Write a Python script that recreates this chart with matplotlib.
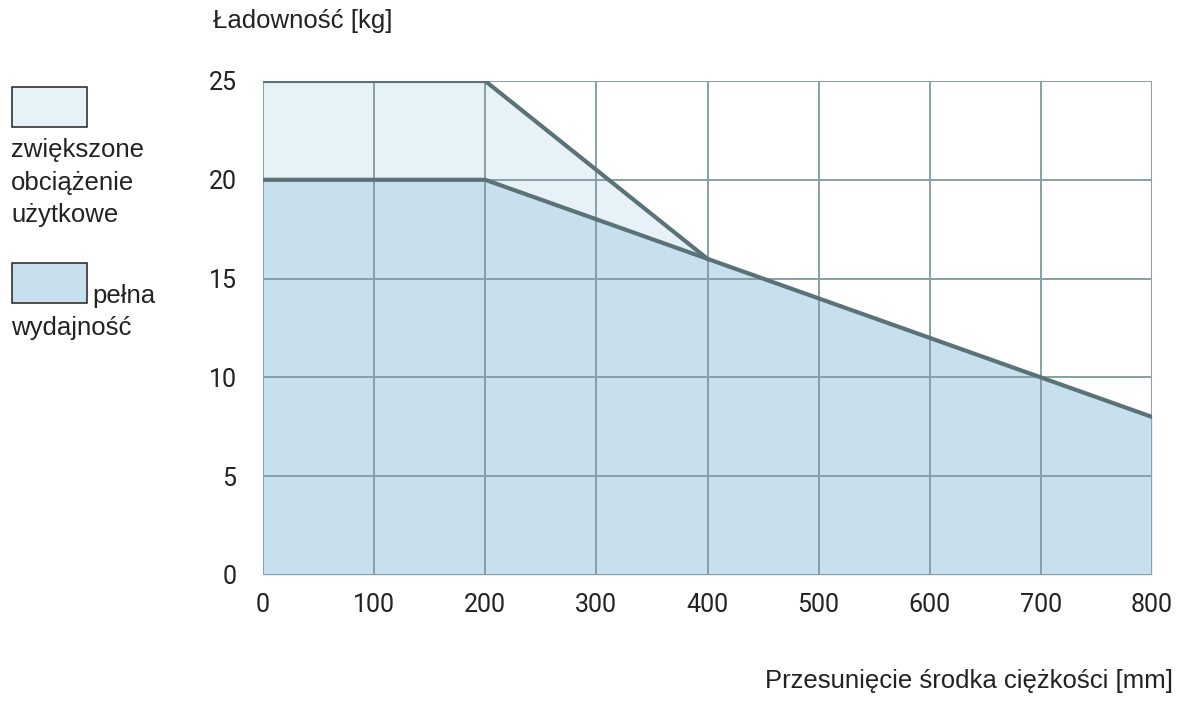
import matplotlib.pyplot as plt
from matplotlib import font_manager
from matplotlib.patches import Rectangle

plt.rcParams['font.family'] = ['Roboto', 'DejaVu Sans']

# dane
x_full = [0, 100, 200, 300, 400, 500, 600, 700, 800]
y_full = [20, 20, 20, 18, 16, 14, 12, 10, 8]
x_inc = [0, 100, 200, 300, 400]
y_inc = [25, 25, 25, 20.5, 16]
x_ticks = [0, 100, 200, 300, 400, 500, 600, 700, 800]
y_ticks = [0, 5, 10, 15, 20, 25]

c_inc = '#e6f1f8'
c_full = '#c8e0ed'
c_line = '#5b7378'
c_grid = '#86a0a8'
c_text = '#222222'
lab_size = 18.5

# zwykła (nie Narrow) Liberation Sans dla opisów
lab_fp = font_manager.FontProperties(family='Roboto', size=lab_size)
for f in font_manager.fontManager.ttflist:
    if f.name == 'Liberation Sans' and f.style == 'normal' and f.weight == 400 \
            and 'narrow' not in f.fname.lower():
        lab_fp = font_manager.FontProperties(fname=f.fname, size=lab_size)
        break

W, H = 1187, 702
fig = plt.figure(figsize=(W/100, H/100), dpi=100)
ax = fig.add_axes([263/W, 1-575/H, (1152-263)/W, (575-81)/H])

y_low_inc = [y_full[x_full.index(v)] for v in x_inc]
ax.fill_between(x_inc, y_low_inc, y_inc, color=c_inc, lw=0, zorder=1)
ax.fill_between(x_full, 0, y_full, color=c_full, lw=0, zorder=1)

for v in x_ticks:
    ax.axvline(v, color=c_grid, lw=1.4, zorder=2)
for v in y_ticks:
    ax.axhline(v, color=c_grid, lw=1.4, zorder=2)

ax.plot(x_inc, y_inc, color=c_line, lw=3, zorder=3, solid_joinstyle='miter')
ax.plot(x_full, y_full, color=c_line, lw=3, zorder=3, solid_joinstyle='miter')

ax.set_xlim(0, 800)
ax.set_ylim(0, 25)
ax.set_xticks(x_ticks)
ax.set_yticks(y_ticks)
for s in ax.spines.values():
    s.set_visible(False)
ax.tick_params(length=0, labelsize=18, colors=c_text)
ax.tick_params(axis='x', pad=13)
ax.tick_params(axis='y', pad=19)

def ftext(x, y, s, **kw):
    fig.text(x/W, 1-y/H, s, fontproperties=lab_fp, color=c_text,
             va='baseline', **kw)

ftext(213, 28, 'Ładowność [kg]', ha='left')
ftext(1173, 688, 'Przesunięcie środka ciężkości [mm]', ha='right')

# legenda
fig.patches.append(Rectangle((12/W, 1-127/H), 75/W, 40/H, transform=fig.transFigure,
                             facecolor=c_inc, edgecolor='#222222', lw=1.1))
fig.patches.append(Rectangle((12/W, 1-303/H), 75/W, 40/H, transform=fig.transFigure,
                             facecolor=c_full, edgecolor='#222222', lw=1.1))
ftext(11, 157, 'zwiększone', ha='left')
ftext(11, 190, 'obciążenie', ha='left')
ftext(11, 222, 'użytkowe', ha='left')
ftext(92, 303, 'pełna', ha='left')
ftext(11, 335, 'wydajność', ha='left')

fig.savefig('out.png', dpi=100)
